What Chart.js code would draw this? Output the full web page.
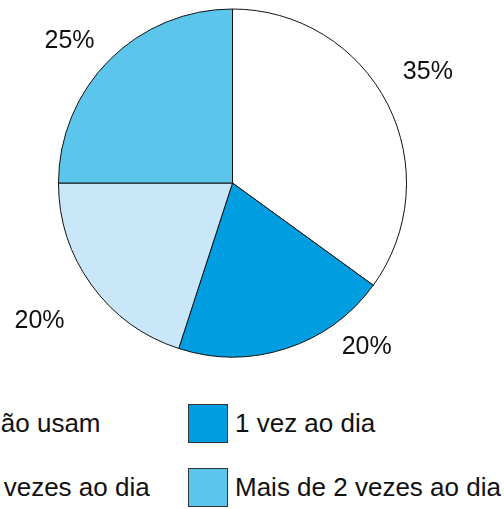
<!DOCTYPE html>
<html>
<head>
<meta charset="utf-8">
<script src="https://cdn.jsdelivr.net/npm/chart.js@4"></script>
<style>
  html, body { margin: 0; padding: 0; background: #fff; overflow: hidden; }
  #wrap { position: relative; width: 504px; height: 509px; overflow: hidden; }
  #pie { position: absolute; left: 0; top: 0; }
  #legend {
    position: absolute; left: -65px; top: 404px;
    display: grid; grid-template-columns: 253px 320px; grid-auto-rows: 64px;
    font-family: "Liberation Sans", Arial, sans-serif; font-size: 26px; color: #111;
  }
  .item { display: flex; align-items: flex-start; height: 64px; }
  .box { width: 38px; height: 37px; border: 1px solid #333; margin-right: 7px; flex: none; }
  .txt { line-height: 39px; white-space: nowrap; }
</style>
</head>
<body>
<div id="wrap">
  <canvas id="pie" width="504" height="390"></canvas>
  <div id="legend"></div>
</div>
<script>
var categories = ['Não usam', '1 vez ao dia', '2 vezes ao dia', 'Mais de 2 vezes ao dia'];
var values = [35, 20, 20, 25];
var colors = ['#ffffff', '#009ee0', '#c9e7f8', '#5bc5ec'];

// label placement around each slice (degrees shift from mid angle, radius factor)
var labelShift = [-2.5, -21.3, 0.4, -4];
var labelDist = [1.29, 1.218, 1.364, 1.241];

var pctLabels = {
	id: 'pctLabels',
	afterDraw: function(chart) {
		var ctx = chart.ctx;
		var meta = chart.getDatasetMeta(0);
		ctx.save();
		ctx.font = '25px "Liberation Sans", Arial, sans-serif';
		ctx.fillStyle = '#111';
		ctx.textAlign = 'center';
		ctx.textBaseline = 'middle';
		meta.data.forEach(function(arc, i) {
			var p = arc.getProps(['x', 'y', 'startAngle', 'endAngle', 'outerRadius']);
			var mid = (p.startAngle + p.endAngle) / 2 + labelShift[i] * Math.PI / 180;
			var r = p.outerRadius * labelDist[i];
			ctx.fillText(values[i] + '%', p.x + Math.cos(mid) * r, p.y + Math.sin(mid) * r);
		});
		ctx.restore();
	}
};

new Chart(document.getElementById('pie').getContext('2d'), {
	type: 'pie',
	data: {
		labels: categories,
		datasets: [{
			data: values,
			backgroundColor: colors,
			borderColor: '#111',
			borderWidth: 1,
			radius: 174
		}]
	},
	options: {
		responsive: false,
		animation: false,
		layout: { padding: { left: 0, right: 39, top: 0, bottom: 24 } },
		plugins: {
			legend: { display: false },
			tooltip: { enabled: false }
		}
	},
	plugins: [pctLabels]
});

// legend built from the same arrays
var legend = document.getElementById('legend');
categories.forEach(function(name, i) {
	var item = document.createElement('div');
	item.className = 'item';
	var box = document.createElement('div');
	box.className = 'box';
	box.style.background = colors[i];
	var txt = document.createElement('span');
	txt.className = 'txt';
	txt.textContent = name;
	item.appendChild(box);
	item.appendChild(txt);
	legend.appendChild(item);
});
</script>
</body>
</html>
